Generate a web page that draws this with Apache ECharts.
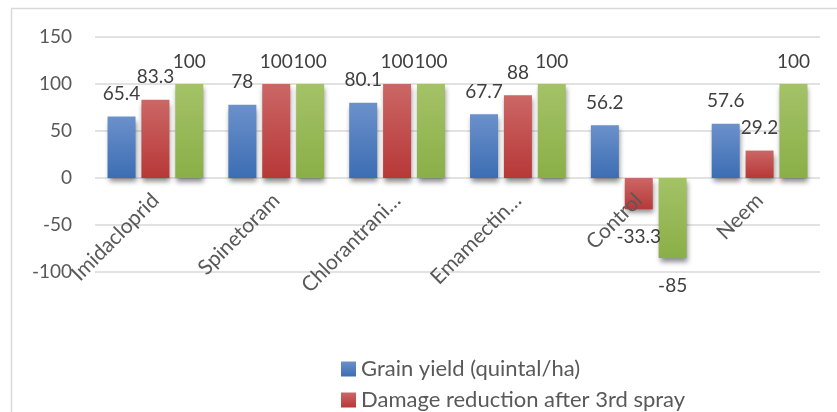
<!DOCTYPE html>
<html><head><meta charset="utf-8">
<script src="https://cdn.jsdelivr.net/npm/echarts@6/dist/echarts.min.js"></script>
<style>html,body{margin:0;padding:0;background:#fff}#c{width:837px;height:412px}</style>
</head><body><div id="c"></div>
<script>
const categories = ["Imidacloprid", "Spinetoram", "Chlorantrani…", "Emamectin…", "Control", "Neem"];
const grainYield = [65.4, 78, 80.1, 67.7, 56.2, 57.6];
const damageReduction3 = [83.3, 100, 100, 88, -33.3, 29.2];
const series3Values = [100, 100, 100, 100, -85, 100];
const seriesNames = ["Grain yield (quintal/ha)", "Damage reduction after 3rd spray", "Damage reduction (series 3)"];
const yTicks = { min: -100, max: 150, interval: 50 };

const FONT = "Lato";
function grad(top, bottom) {
  return { type: 'linear', x: 0, y: 0, x2: 0, y2: 1, colorStops: [{ offset: 0, color: top }, { offset: 1, color: bottom }] };
}
const colors = [grad('#6B91CB', '#3C6DB3'), grad('#CB6766', '#B73837'), grad('#A4C267', '#8AAF47')];
function mkData(arr) {
  return arr.map(v => ({
    value: v,
    label: v < 0 ? { position: 'bottom', distance: 18 } : { position: 'top', distance: 13 }
  }));
}
function mkSeries(i, arr) {
  return {
    type: 'bar', name: seriesNames[i], data: mkData(arr),
    barWidth: 28, barGap: '21%',
    itemStyle: { color: colors[i], shadowColor: 'rgba(0,0,0,0.45)', shadowBlur: 5, shadowOffsetX: 1, shadowOffsetY: 4 },
    label: { show: true, fontFamily: FONT, fontSize: 19, color: '#404040' }
  };
}
function mkLegend(i, top) {
  return {
    data: [seriesNames[i]], left: 336, top: top, itemWidth: 15, itemHeight: 15, itemGap: 0,
    icon: 'rect',
    textStyle: { fontFamily: FONT, fontSize: 22, color: '#595959' }
  };
}
const chart = echarts.init(document.getElementById('c'));
chart.setOption({
  animation: false,
  textStyle: { fontFamily: FONT },
  graphic: [{ type: 'rect', shape: { x: 11.5, y: 8.5, width: 900, height: 500 }, style: { fill: 'none', stroke: '#D9D9D9', lineWidth: 1.5 }, silent: true }],
  grid: { left: 95, right: 17, top: 37, bottom: 140 },
  legend: [mkLegend(0, 353), mkLegend(1, 384)],
  xAxis: {
    type: 'category', data: categories, offset: -94, z: 10,
    axisLine: { show: false, onZero: false }, axisTick: { show: false },
    axisLabel: { rotate: 45, interval: 0, fontFamily: FONT, fontSize: 21, color: '#595959', margin: 19 }
  },
  yAxis: {
    type: 'value', min: yTicks.min, max: yTicks.max, interval: yTicks.interval,
    axisLine: { show: false }, axisTick: { show: false },
    splitLine: { lineStyle: { color: '#D9D9D9', width: 1.5 } },
    axisLabel: { fontFamily: FONT, fontSize: 19, color: '#595959', margin: 23 }
  },
  series: [mkSeries(0, grainYield), mkSeries(1, damageReduction3), mkSeries(2, series3Values)]
});
</script></body></html>
